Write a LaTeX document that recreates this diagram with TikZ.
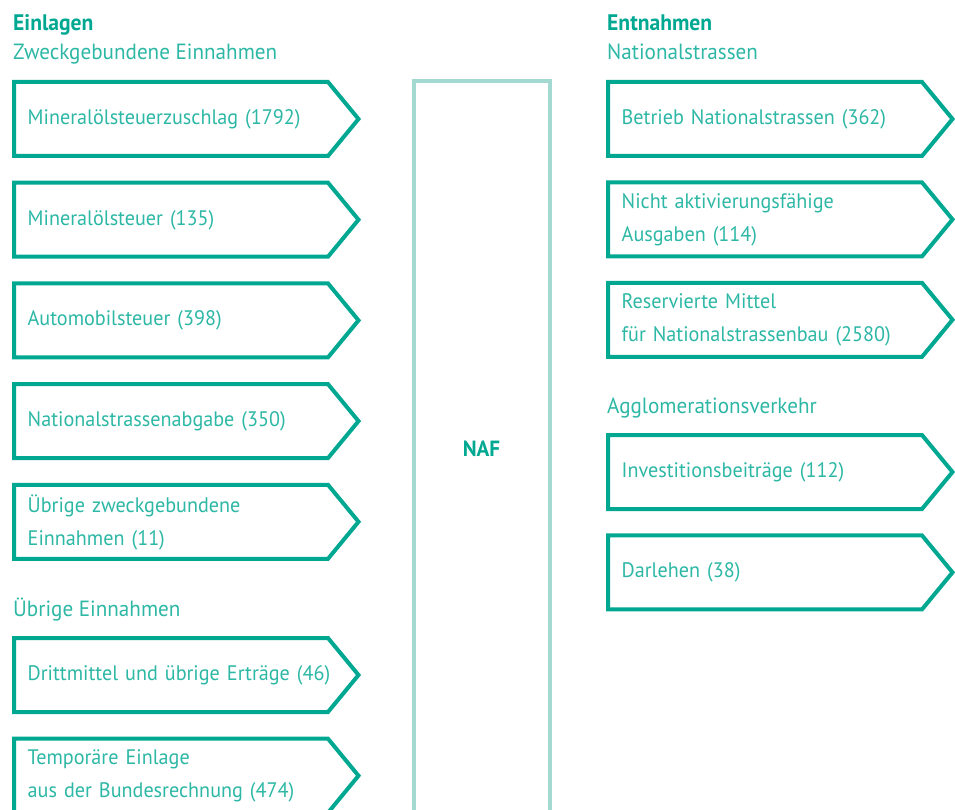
\documentclass[tikz,border=0pt]{standalone}
\usepackage{fontspec}
\setmainfont[FakeStretch=0.96]{PT Sans}
\usepackage{tikz}
\usetikzlibrary{positioning,calc}
\definecolor{naftuerkis}{RGB}{0,168,146}
\definecolor{naftext}{RGB}{45,183,165}
\definecolor{nafhell}{RGB}{163,217,209}
\tikzstyle{pfeil}=[rectangle, anchor=north west, minimum height=74pt, text width=310pt, inner xsep=13.5pt, inner ysep=0pt, align=left, text=naftext, font=\fontsize{21}{33}\selectfont]
\tikzstyle{pfeilrand}=[draw=naftuerkis, line width=4pt]
\tikzstyle{titel}=[anchor=base west, inner sep=0pt, text=naftuerkis, font=\fontsize{22.5}{26}\selectfont\bfseries]
\tikzstyle{untertitel}=[anchor=base west, inner sep=0pt, text=naftext, font=\fontsize{22}{26}\selectfont]

\begin{document}
\begin{tikzpicture}[x=1pt, y=-1pt, node distance=26.3pt]
	\useasboundingbox (0,0) rectangle (955,810);
	% Fonds in der Mitte
	\node[draw=nafhell, line width=4pt, outer sep=0pt, anchor=north west, minimum width=136pt, minimum height=736pt, text=naftuerkis, font=\fontsize{22}{26}\selectfont\bfseries] (naf) at (413.5,81) {NAF};

	% Einlagen
	\node[titel] (einl) at (13,31) {Einlagen};
	\node[untertitel] (zweck) at (13,60) {Zweckgebundene Einnahmen};
	\node[pfeil] (e1) at (14,82) {Mineralölsteuerzuschlag (1792)};
	\node[pfeil, below=of e1] (e2) {Mineralölsteuer (135)};
	\node[pfeil, below=of e2] (e3) {Automobilsteuer (398)};
	\node[pfeil, below=of e3] (e4) {Nationalstrassenabgabe (350)};
	\node[pfeil, below=of e4] (e5) {Übrige zweckgebundene\\Einnahmen (11)};
	\node[untertitel] (uebrig) at (13,616) {Übrige Einnahmen};
	\node[pfeil] (e6) at (14,638) {Drittmittel und übrige Erträge (46)};
	\node[pfeil, below=of e6] (e7) {Temporäre Einlage\\aus der Bundesrechnung (474)};

	% Entnahmen
	\node[titel] (entn) at (607,31) {Entnahmen};
	\node[untertitel] (nat) at (607,60) {Nationalstrassen};
	\node[pfeil] (a1) at (608,82) {Betrieb Nationalstrassen (362)};
	\node[pfeil, below=26pt of a1] (a2) {Nicht aktivierungsfähige\\Ausgaben (114)};
	\node[pfeil, below=26pt of a2] (a3) {Reservierte Mittel\\für Nationalstrassenbau (2580)};
	\node[untertitel] (agglo) at (607,413) {Agglomerationsverkehr};
	\node[pfeil] (a4) at (608,435) {Investitionsbeiträge (112)};
	\node[pfeil, below=26pt of a4] (a5) {Darlehen (38)};

	% Pfeilumrisse, vom linken Rand aus
	\foreach \n in {e1,e2,e3,e4,e5,e6,e7,a1,a2,a3,a4,a5}
	\draw[pfeilrand] (\n.north west) -- ++(314,0) -- ++(30.5,37) -- ++(-30.5,37) -- ++(-314,0) -- cycle;
\end{tikzpicture}
\end{document}
